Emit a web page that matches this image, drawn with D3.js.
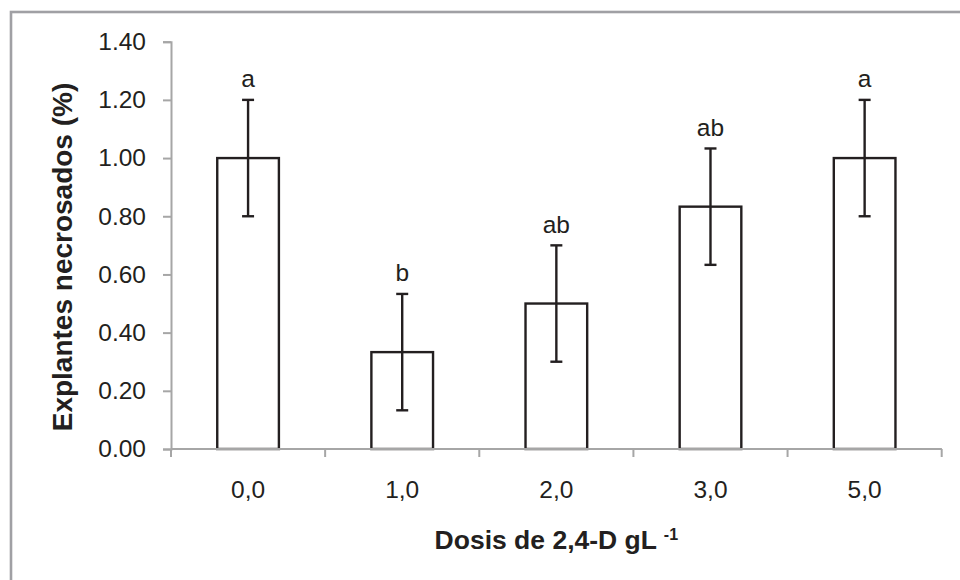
<!DOCTYPE html>
<html><head><meta charset="utf-8">
<script src="https://cdn.jsdelivr.net/npm/d3@7"></script>
<style>body{margin:0;background:#fff}svg{display:block}text{font-family:Arial,"Liberation Sans",sans-serif;fill:#231f20}</style>
</head><body><svg id="c" width="960" height="580"></svg>
<script>
const categories = ["0,0","1,0","2,0","3,0","5,0"];
const values = [1.00, 0.333, 0.50, 0.833, 1.00];
const errors = [0.20, 0.20, 0.20, 0.20, 0.20];
const letters = ["a","b","ab","ab","a"];
const yTicks = [0,0.2,0.4,0.6,0.8,1.0,1.2,1.4];

const svg = d3.select("#c");
const L = 171, R = 941.7, T = 41.7, B = 449;
const x = d3.scaleBand().domain(categories).range([L,R]).paddingInner(0.6).paddingOuter(0.3);
const y = d3.scaleLinear().domain([0,1.4]).range([B,T]);
const ink = "#231f20", axisCol = "#a6a6a6";

// frame
svg.append("rect").attr("x",11).attr("y",12).attr("width",1000).attr("height",700)
  .attr("fill","none").attr("stroke","#a0a0a4").attr("stroke-width",2.6);

// y axis
const ya = svg.append("g").attr("transform",`translate(${L},0)`)
  .call(d3.axisLeft(y).tickValues(yTicks).tickFormat(d3.format(".2f")).tickSize(8).tickPadding(17));
ya.select(".domain").attr("stroke",axisCol).attr("stroke-width",2);
ya.selectAll(".tick line").attr("stroke",axisCol).attr("stroke-width",2);
ya.selectAll(".tick text").attr("font-size",24.5).attr("fill",ink).attr("font-family","Arial, 'Liberation Sans', sans-serif");

// x axis (ticks at category boundaries)
const xa = svg.append("g").attr("transform",`translate(0,${B})`);
const bounds = categories.map((c,i)=>L + i*(R-L)/categories.length).concat([R]);
xa.append("line").attr("x1",L).attr("x2",R).attr("y1",0).attr("y2",0).attr("stroke",axisCol).attr("stroke-width",2);
xa.selectAll("line.tk").data(bounds).join("line").attr("class","tk")
  .attr("x1",d=>d).attr("x2",d=>d).attr("y1",0).attr("y2",8).attr("stroke",axisCol).attr("stroke-width",2);
xa.selectAll("text").data(categories).join("text")
  .attr("x",d=>x(d)+x.bandwidth()/2).attr("y",49).attr("text-anchor","middle").attr("font-size",24.5).text(d=>d);

// bars
svg.selectAll("rect.bar").data(categories).join("rect").attr("class","bar")
  .attr("x",d=>x(d)).attr("width",x.bandwidth())
  .attr("y",(d,i)=>y(values[i])).attr("height",(d,i)=>B-y(values[i]))
  .attr("fill","#fff").attr("stroke",ink).attr("stroke-width",2.4);
// redraw x axis line over bars bottom
svg.append("line").attr("x1",L).attr("x2",R).attr("y1",B).attr("y2",B).attr("stroke",axisCol).attr("stroke-width",2);

// error bars
const eb = svg.append("g").attr("stroke",ink).attr("stroke-width",2.4);
categories.forEach((c,i)=>{
  const cx = x(c)+x.bandwidth()/2;
  eb.append("line").attr("x1",cx).attr("x2",cx).attr("y1",y(values[i]+errors[i])).attr("y2",y(values[i]-errors[i]));
  eb.append("line").attr("x1",cx-6).attr("x2",cx+6).attr("y1",y(values[i]+errors[i])).attr("y2",y(values[i]+errors[i]));
  eb.append("line").attr("x1",cx-6).attr("x2",cx+6).attr("y1",y(values[i]-errors[i])).attr("y2",y(values[i]-errors[i]));
});

// letters
svg.selectAll("text.lt").data(categories).join("text").attr("class","lt")
  .attr("x",d=>x(d)+x.bandwidth()/2).attr("y",(d,i)=>y(values[i]+errors[i])-12.5)
  .attr("text-anchor","middle").attr("font-size",24.5).text((d,i)=>letters[i]);

// axis titles
const xt = svg.append("text").attr("x",(L+R)/2).attr("y",549).attr("text-anchor","middle")
  .attr("font-size",26.5).attr("font-weight","bold");
xt.append("tspan").text("Dosis de 2,4-D gL ");
xt.append("tspan").attr("font-size",16).attr("dy",-9).text("-1");

svg.append("text").attr("transform","translate(72,257) rotate(-90)").attr("text-anchor","middle")
  .attr("font-size",28).attr("font-weight","bold").text("Explantes necrosados (%)");
</script></body></html>
